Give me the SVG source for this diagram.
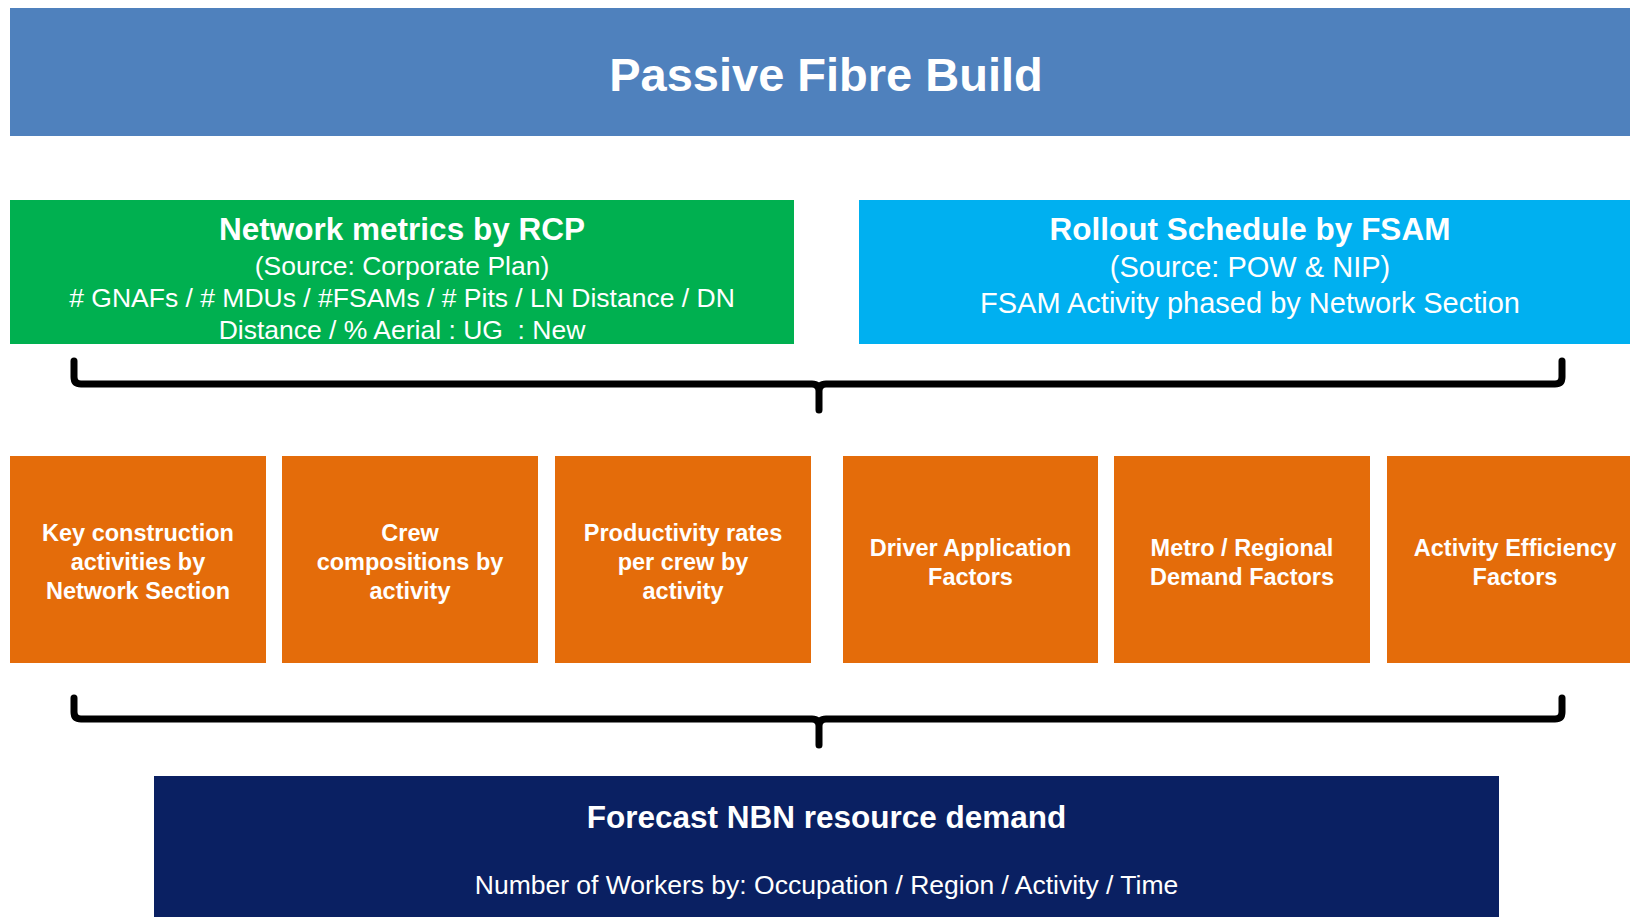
<svg xmlns="http://www.w3.org/2000/svg" width="1630" height="917" viewBox="0 0 1630 917">
<style>
text{font-family:"Liberation Sans",Arial,Helvetica,sans-serif;fill:#ffffff;text-anchor:middle}
.b{font-weight:bold}
.t1{font-size:47px}
.t2{font-size:31.5px}
.s26{font-size:26.5px}
.s29{font-size:29px}
.o{font-size:23.5px;font-weight:bold}
.brk{fill:none;stroke:#000;stroke-width:7;stroke-linecap:round;stroke-linejoin:round}
.orange{fill:#e46c0a}
</style>
<rect width="1630" height="917" fill="#ffffff"/>
<g id="banner">
<rect x="10" y="8" width="1632" height="128" fill="#4f81bd"/>
<text class="b t1" x="826" y="91">Passive Fibre Build</text>
</g>
<g id="network-metrics">
<rect x="10" y="200" width="784" height="144" fill="#00b050"/>
<text class="b t2" x="402" y="240">Network metrics by RCP</text>
<text class="s26" x="402" y="275">(Source: Corporate Plan)</text>
<text class="s26" x="402" y="307"># GNAFs / # MDUs / #FSAMs / # Pits / LN Distance / DN</text>
<text class="s26" x="402" y="339" xml:space="preserve">Distance / % Aerial : UG  : New</text>
</g>
<g id="rollout-schedule">
<rect x="859" y="200" width="782" height="144" fill="#00b0f0"/>
<text class="b t2" x="1250" y="240">Rollout Schedule by FSAM</text>
<text class="s29" x="1250" y="277">(Source: POW &amp; NIP)</text>
<text class="s29" x="1250" y="313">FSAM Activity phased by Network Section</text>
</g>
<g id="connectors">
<path class="brk" d="M74 361 L74 377 Q74 384 81 384 L812 384 Q819 384 819 391 L819 410 M819 391 Q819 384 826 384 L1555 384 Q1562 384 1562 377 L1562 361"/>
<path class="brk" d="M74 698 L74 712 Q74 719 81 719 L812 719 Q819 719 819 726 L819 745 M819 726 Q819 719 826 719 L1555 719 Q1562 719 1562 712 L1562 698"/>
</g>
<g id="key-construction">
<rect class="orange" x="10" y="456" width="256" height="207"/>
<text class="o" x="138" y="540.5">Key construction</text>
<text class="o" x="138" y="569.5">activities by</text>
<text class="o" x="138" y="598.5">Network Section</text>
</g>
<g id="crew-compositions">
<rect class="orange" x="282" y="456" width="256" height="207"/>
<text class="o" x="410" y="540.5">Crew</text>
<text class="o" x="410" y="569.5">compositions by</text>
<text class="o" x="410" y="598.5">activity</text>
</g>
<g id="productivity-rates">
<rect class="orange" x="555" y="456" width="256" height="207"/>
<text class="o" x="683" y="540.5">Productivity rates</text>
<text class="o" x="683" y="569.5">per crew by</text>
<text class="o" x="683" y="598.5">activity</text>
</g>
<g id="driver-application">
<rect class="orange" x="843" y="456" width="255" height="207"/>
<text class="o" x="970.5" y="555.5">Driver Application</text>
<text class="o" x="970.5" y="584.5">Factors</text>
</g>
<g id="metro-regional">
<rect class="orange" x="1114" y="456" width="256" height="207"/>
<text class="o" x="1242" y="555.5">Metro / Regional</text>
<text class="o" x="1242" y="584.5">Demand Factors</text>
</g>
<g id="activity-efficiency">
<rect class="orange" x="1387" y="456" width="256" height="207"/>
<text class="o" x="1515" y="555.5">Activity Efficiency</text>
<text class="o" x="1515" y="584.5">Factors</text>
</g>
<g id="forecast-demand">
<rect x="154" y="776" width="1345" height="145" fill="#0a2062"/>
<text class="b t2" x="826.5" y="828">Forecast NBN resource demand</text>
<text class="s26" x="826.5" y="894">Number of Workers by: Occupation / Region / Activity / Time</text>
</g>
</svg>
